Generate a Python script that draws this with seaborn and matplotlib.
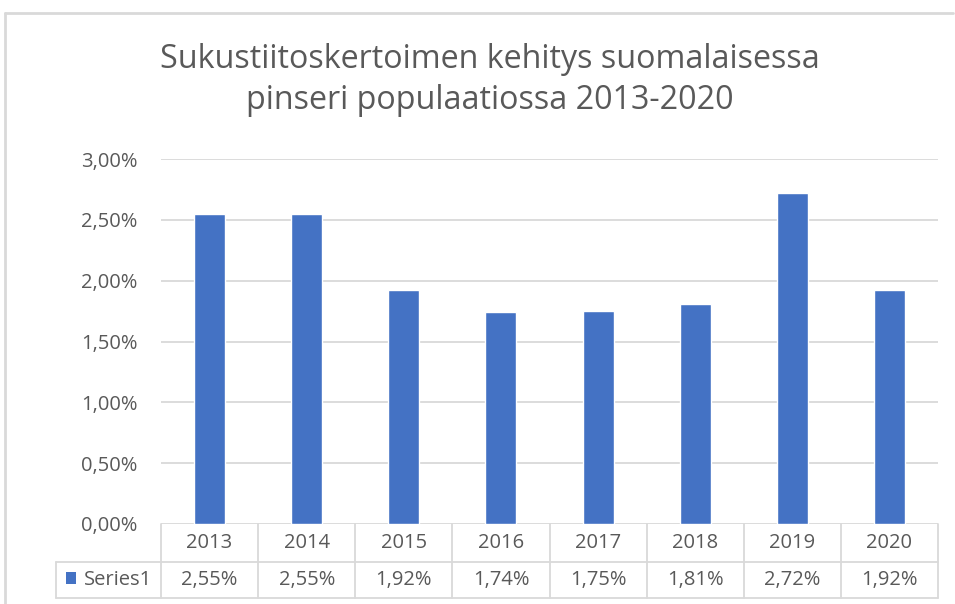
import matplotlib
matplotlib.use("Agg")
import matplotlib.pyplot as plt
import seaborn as sns
import pandas as pd
from matplotlib.lines import Line2D
from matplotlib.patches import Rectangle

years = ["2013", "2014", "2015", "2016", "2017", "2018", "2019", "2020"]
values = [0.0255, 0.0255, 0.0192, 0.0174, 0.0175, 0.0181, 0.0272, 0.0192]
value_labels = ["2,55%", "2,55%", "1,92%", "1,74%", "1,75%", "1,81%", "2,72%", "1,92%"]
yticks = [0.0, 0.005, 0.010, 0.015, 0.020, 0.025, 0.030]
ytick_labels = ["0,00%", "0,50%", "1,00%", "1,50%", "2,00%", "2,50%", "3,00%"]
series_name = "Series1"
title_lines = ["Sukustiitoskertoimen kehitys suomalaisessa", "pinseri populaatiossa 2013-2020"]

sns.set_style("white")
plt.rcParams['font.family'] = ['Open Sans', 'DejaVu Sans']

TXT = "#595959"
GRID = "#D9D9D9"
BAR = "#4472C4"
W, H = 955, 604
FS = 14.5

fig = plt.figure(figsize=(W / 100, H / 100), dpi=100)
L, R, T, B = 161, 938, 159, 524
ax = fig.add_axes([L / W, 1 - B / H, (R - L) / W, (B - T) / H])

df = pd.DataFrame({"year": years, "value": values})
sns.barplot(data=df, x="year", y="value", color=BAR, width=0.32, ax=ax, saturation=1)

ax.set_ylim(0, 0.03)
ax.set_xlim(-0.5, len(years) - 0.5)
ax.set_yticks(yticks)
ax.set_yticklabels(ytick_labels, color=TXT, fontsize=FS)
ax.set_xticks([])
ax.set_xlabel("")
ax.set_ylabel("")
ax.tick_params(axis="y", length=0, pad=17)
for s in ax.spines.values():
    s.set_visible(False)
ax.yaxis.grid(True, color=GRID, linewidth=1.3)
ax.set_axisbelow(True)

# data table
axw = R - L
axh = B - T
def ax_x(px):
    return (px - L) / axw
def ax_y(py):
    return (B - py) / axh

y_row1 = 562
y_row2 = 598
x_first = 56
tr = ax.transAxes
lk = dict(color=GRID, linewidth=1.3, transform=tr, clip_on=False)
ax.add_line(Line2D([ax_x(x_first), 1], [ax_y(y_row1)] * 2, **lk))
ax.add_line(Line2D([ax_x(x_first), 1], [ax_y(y_row2)] * 2, **lk))
ax.add_line(Line2D([ax_x(x_first)] * 2, [ax_y(y_row1), ax_y(y_row2)], **lk))
n = len(years)
for k in range(n + 1):
    xk = k / n
    ax.add_line(Line2D([xk, xk], [0, ax_y(y_row2)], **lk))

yc1 = ax_y(543)
yc2 = ax_y(580)
for i, (yr, lab) in enumerate(zip(years, value_labels)):
    xc = (i + 0.5) / n
    ax.text(xc, yc1, yr, transform=tr, ha="center", va="center", color=TXT, fontsize=FS, clip_on=False)
    ax.text(xc, yc2, lab, transform=tr, ha="center", va="center", color=TXT, fontsize=FS, clip_on=False)

# legend key in the table
fig.patches.append(Rectangle((66 / W, 1 - 584 / H), 10 / W, 12 / H, transform=fig.transFigure,
                             facecolor=BAR, edgecolor="none"))
fig.text(84 / W, 1 - 580 / H, series_name, ha="left", va="center", color=TXT, fontsize=FS)

# title
fig.text(490 / W, 1 - 68 / H, title_lines[0], ha="center", va="baseline", color=TXT, fontsize=23.2)
fig.text(490 / W, 1 - 109 / H, title_lines[1], ha="center", va="baseline", color=TXT, fontsize=23.2)

# chart frame
fig.add_artist(Line2D([5 / W, 5 / W], [0, 1 - 13 / H], color=GRID, linewidth=2, transform=fig.transFigure))
fig.add_artist(Line2D([5 / W, 953 / W], [1 - 13 / H] * 2, color=GRID, linewidth=2, transform=fig.transFigure))

fig.savefig("out.png", dpi=100)
